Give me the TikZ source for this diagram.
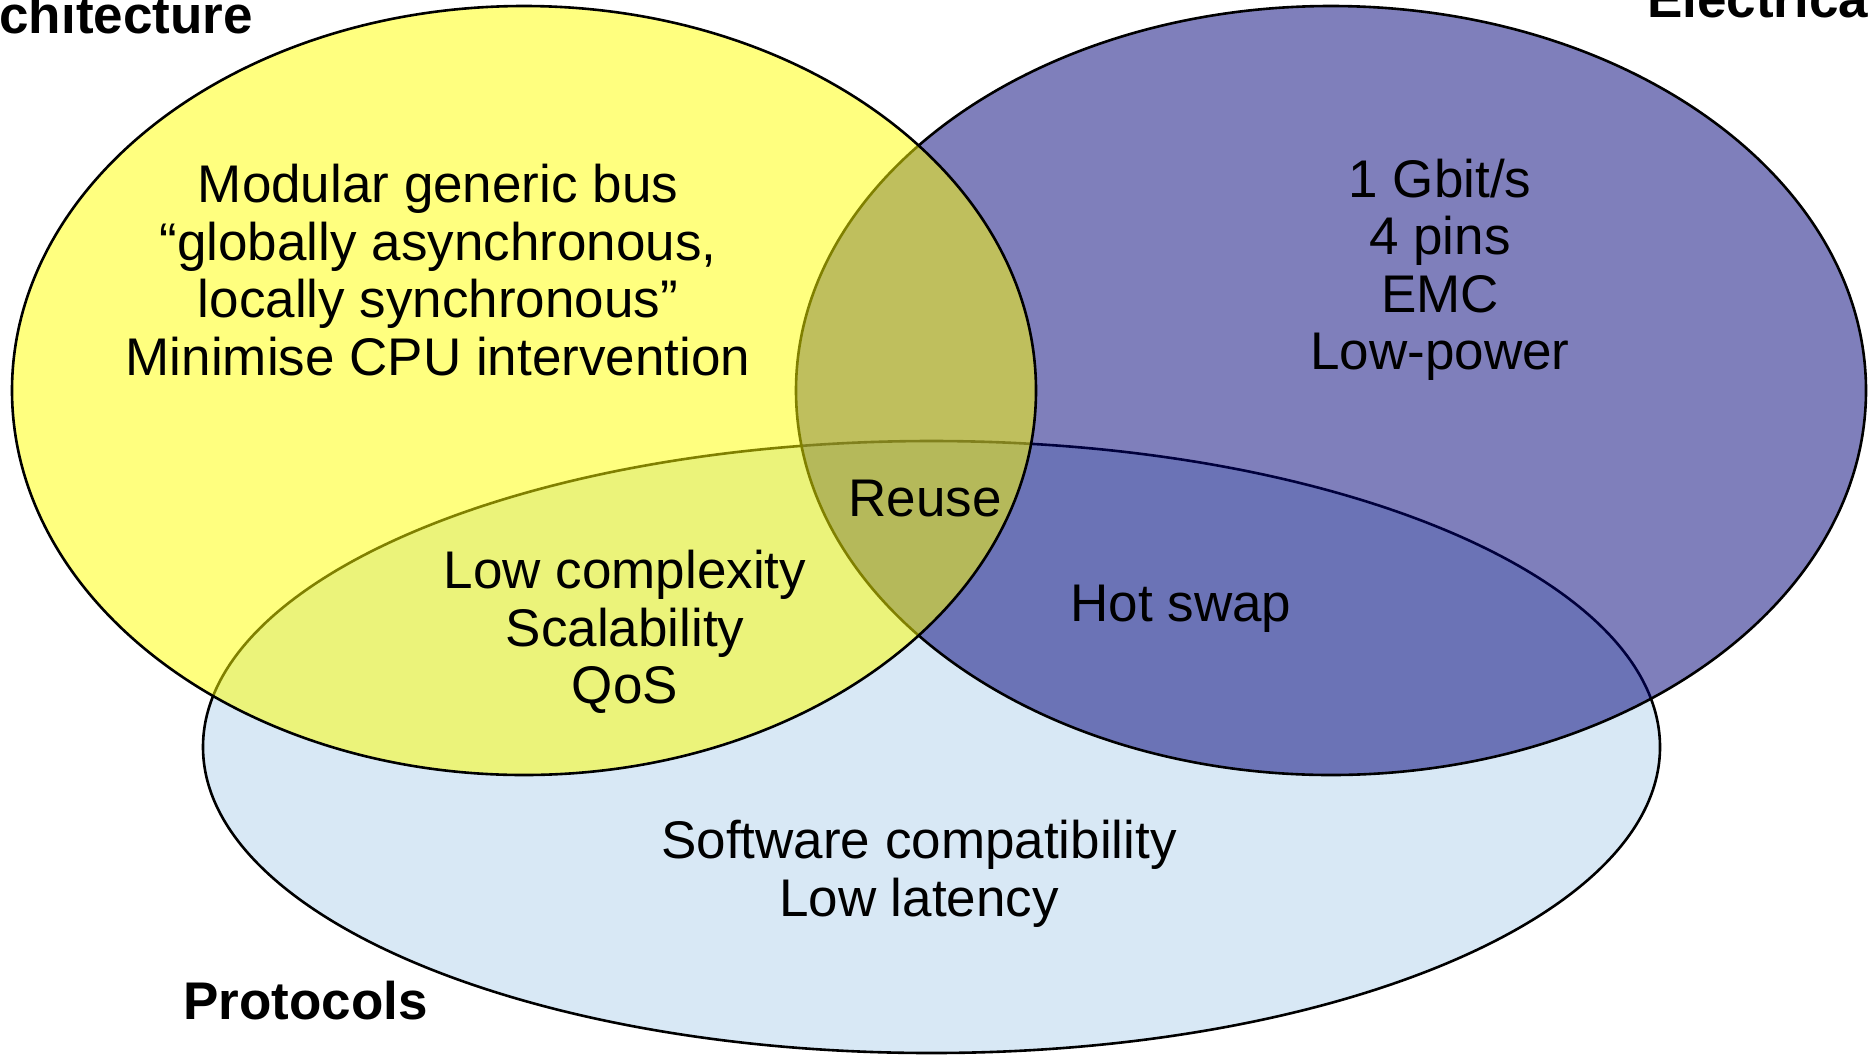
\documentclass[tikz,border=0pt]{standalone}
\usepackage{fontspec}
\setmainfont{Liberation Sans}
\begin{document}
\begin{tikzpicture}[x=1pt,y=-1pt,
  setline/.style={draw=black,line width=2.6pt},
  body/.style={font=\fontsize{53}{57.5}\selectfont,align=center,inner sep=0pt},
  title/.style={font=\fontsize{53}{57.5}\selectfont\bfseries,inner sep=0pt}]
\definecolor{protofill}{RGB}{216,232,245}
\definecolor{elecfill}{RGB}{0,0,120}
\definecolor{archfill}{RGB}{255,255,0}
\useasboundingbox (0,0) rectangle (1871,1061);
\fill[white] (0,0) rectangle (1871,1061);
% the three sets, back to front
\path[setline,fill=protofill] (931.5,747) ellipse [x radius=728.5, y radius=306];
\path[setline,fill=elecfill,fill opacity=0.5] (1331,390.5) ellipse [x radius=535, y radius=384.5];
\path[setline,fill=archfill,fill opacity=0.5] (524,390.5) ellipse [x radius=512, y radius=384.5];
% set titles
\node[title,anchor=base east] (tarch) at (253,33) {Architecture};
\node[title,anchor=base west] (telec) at (1647,17) {Electrical};
\node[title,anchor=base west] (tproto) at (183,1019) {Protocols};
% contents of each region
\node[body] (arch) at (438,270) {Modular generic bus\\``globally asynchronous,\\locally synchronous''\\Minimise CPU intervention};
\node[body] (elec) at (1440,270) {1 Gbit/s\\4 pins\\EMC\\Low-power};
\node[body] (reuse) at (925,499) {Reuse};
\node[body] (archproto) at (625,632) {Low complexity\\Scalability\\QoS};
\node[body] (elecproto) at (1181,609) {Hot swap};
\node[body] (proto) at (919,874) {Software compatibility\\Low latency};
\end{tikzpicture}
\end{document}
